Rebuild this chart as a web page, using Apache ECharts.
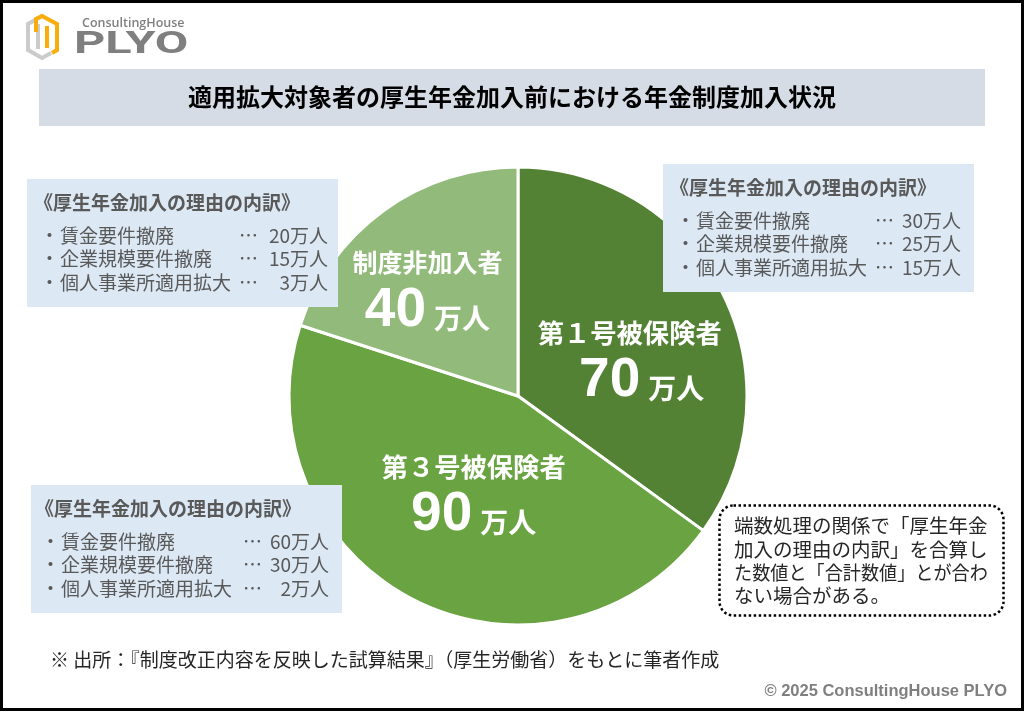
<!DOCTYPE html>
<html><head><meta charset="utf-8">
<style>html,body{margin:0;padding:0;background:#fff}#c{width:1024px;height:712px}</style>
<script src="https://cdn.jsdelivr.net/npm/echarts@6/dist/echarts.min.js"></script>
</head><body><div id="c"></div>
<script>
const categories = ['第１号被保険者', '第３号被保険者', '制度非加入者'];
const totals = [70, 90, 40];
const sliceColors = ['#548235', '#6AA342', '#92BB7B'];
const labelShift = [[7, 21], [9, -3], [-21.5, -7]];
const reasons = ['賃金要件撤廃', '企業規模要件撤廃', '個人事業所適用拡大'];
const reasonValues1 = [30, 25, 15];
const reasonValues3 = [60, 30, 2];
const reasonValuesNone = [20, 15, 3];
const heading = '《厚生年金加入の理由の内訳》';
const title = '適用拡大対象者の厚生年金加入前における年金制度加入状況';
const noteLines = ['端数処理の関係で「厚生年金', '加入の理由の内訳」を合算し', 'た数値と「合計数値」とが合わ', 'ない場合がある。'];
const noteScale = [1, 1, 0.93, 1];
const source = '※ 出所：『制度改正内容を反映した試算結果』（厚生労働省）をもとに筆者作成';
const copyright = '© 2025 ConsultingHouse PLYO';

const JP = '"Noto Sans CJK JP","Noto Sans",sans-serif';
const G = [];
function txt(x, y, s, o, extra) {
  G.push(Object.assign({type:'text', x, y, z:20, style:Object.assign({text:s, fill:'#595959', font:'19px '+JP, textVerticalAlign:'middle', textBaseline:'middle'}, o||{})}, extra||{}));
}
function box(x, y, vals, off, valOff) {
  G.push({type:'rect', z:10, shape:{x, y, width:311, height:128}, style:{fill:'#DCE8F4'}});
  txt(x+7+off, y+24, heading, {font:'bold 19px '+JP});
  const ys = [57, 80, 104];
  reasons.forEach((r, i) => {
    txt(x+13+off, y+ys[i], '・', {});
    txt(x+33+off, y+ys[i], r, {});
    txt(x+212, y+ys[i], '…', {});
    txt(x+301+valOff, y+ys[i], vals[i] + '万人', {textAlign:'right'});
  });
}
// frame
G.push({type:'rect', z:30, shape:{x:1.5, y:1.5, width:1021, height:708}, style:{fill:'none', stroke:'#000', lineWidth:3}, silent:true});
// logo
G.push({type:'polyline', z:20, shape:{points:[[42,16],[28,24],[28,50],[42,58],[51,53]]}, style:{stroke:'#CBCBCB', lineWidth:4, fill:'none'}});
G.push({type:'polyline', z:20, shape:{points:[[38,24],[38,49]]}, style:{stroke:'#CBCBCB', lineWidth:4, fill:'none'}});
G.push({type:'polyline', z:21, shape:{points:[[36,32],[36,19],[42,16],[57,24],[57,50],[52,53]]}, style:{stroke:'#F9AD0B', lineWidth:4, fill:'none'}});
G.push({type:'polyline', z:21, shape:{points:[[47,48],[47,26]]}, style:{stroke:'#F9AD0B', lineWidth:4, fill:'none'}});
txt(82, 23, 'ConsultingHouse', {font:'600 12.5px "Open Sans",sans-serif', fill:'#7F7F7F'});
G.push({type:'text', z:20, x:74, y:45, scaleX:1.57, style:{text:'PLYO', font:'bold 31px Roboto,sans-serif', fill:'#7F7F7F', textBaseline:'middle', textVerticalAlign:'middle'}});
// title
G.push({type:'rect', z:10, shape:{x:39, y:69, width:946, height:57}, style:{fill:'#D6DCE5'}});
txt(512, 97, title, {font:'bold 24px '+JP, fill:'#000', textAlign:'center'});
// boxes
box(27, 179, reasonValuesNone, 0, 0);
box(663, 164, reasonValues1, 0, -3);
box(31, 485, reasonValues3, -3, -3);
// note
G.push({type:'rect', z:10, shape:{x:719.5, y:505.5, width:284, height:110, r:14}, style:{fill:'#fff', stroke:'#000', lineWidth:2.5, lineDash:[2.5,2.5]}});
noteLines.forEach((l, i) => txt(734, 526 + i*23.3, l, {font:'19.5px '+JP, fill:'#262626'}, {scaleX:noteScale[i]}));
// source
txt(50, 660, source, {font:'19px '+JP, fill:'#262626'});
txt(1007, 691, copyright, {font:'bold 16.5px "Liberation Sans",Arial,sans-serif', fill:'#7F7F7F', textAlign:'right'});

const chart = echarts.init(document.getElementById('c'), null, {renderer:'canvas'});
chart.setOption({
  animation:false,
  backgroundColor:'#fff',
  graphic:G,
  series:[{
    type:'pie',
    center:[518, 396],
    radius:[0, 229],
    startAngle:90,
    clockwise:true,
    silent:true,
    data:categories.map((n, i) => ({name:n, value:totals[i], itemStyle:{color:sliceColors[i]}})),
    itemStyle:{borderColor:'#fff', borderWidth:3},
    labelLine:{show:false},
    label:{
      show:true, position:'inside', color:'#fff',
      formatter:p => '{' + (p.dataIndex === 2 ? 'n' : 'm') + '|' + p.name + '}\n{' + (p.dataIndex === 0 ? 'w' : 'v') + '|' + p.value + '}{u|万人}',
      rich:{
        n:{fontFamily:JP, fontWeight:'bold', fontSize:25, color:'#fff', lineHeight:34, align:'center'},
        m:{fontFamily:JP, fontWeight:'bold', fontSize:26.3, color:'#fff', lineHeight:34, align:'center'},
        v:{fontFamily:'"Liberation Sans",Arial,sans-serif', fontWeight:'bold', fontSize:55, color:'#fff', lineHeight:62},
        w:{fontFamily:'"Liberation Sans",Arial,sans-serif', fontWeight:'bold', fontSize:55, color:'#fff', lineHeight:62, padding:[0,0,0,24]},
        u:{fontFamily:JP, fontWeight:'bold', fontSize:28, color:'#fff', lineHeight:28, padding:[15,0,0,8]}
      }
    },
    labelLayout:p => ({dx:labelShift[p.dataIndex][0], dy:labelShift[p.dataIndex][1]})
  }]
});
</script></body></html>
